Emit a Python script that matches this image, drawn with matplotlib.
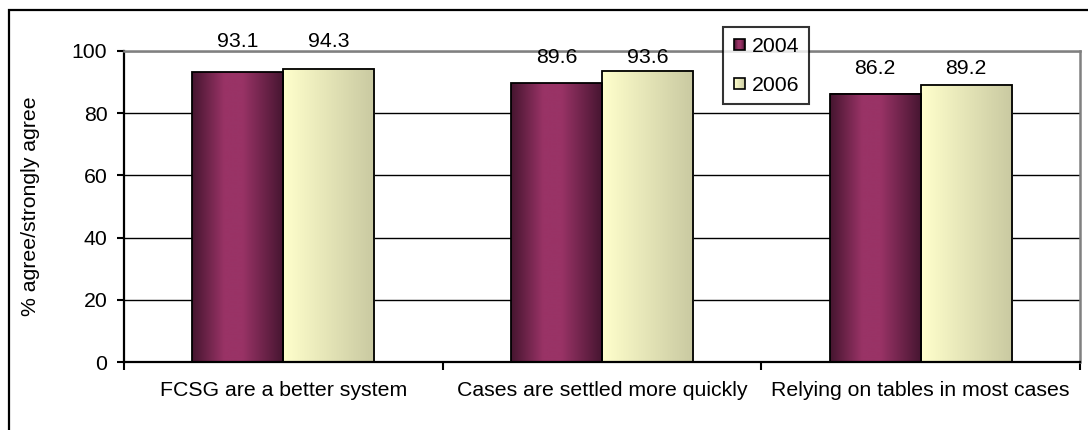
import numpy as np
import matplotlib
matplotlib.use("Agg")
import matplotlib.pyplot as plt
from matplotlib.colors import LinearSegmentedColormap
from matplotlib.patches import Rectangle
from matplotlib.legend_handler import HandlerPatch

# ---- data ----
categories = ["FCSG are a better system",
              "Cases are settled more quickly",
              "Relying on tables in most cases"]
series_names = ["2004", "2006"]
values_2004 = [93.1, 89.6, 86.2]
values_2006 = [94.3, 93.6, 89.2]
y_ticks = [0, 20, 40, 60, 80, 100]

# label offsets above each bar top (points)
label_offsets_2004 = [22.0, 18.5, 18.0]
label_offsets_2006 = [19.5, 9.5, 11.5]

plt.rcParams["font.family"] = ["Liberation Sans", "DejaVu Sans"]
FS = 15.3

W, H = 1088, 430
fig = plt.figure(figsize=(W / 100, H / 100), dpi=100)
ax = fig.add_axes([124 / W, 1 - 362 / H, (1080 - 124) / W, (362 - 51) / H])

# outer chart frame (runs off the right/bottom edge)
fig.patches.append(Rectangle((9 / W, -0.05), 1.2, 1 - 10 / H + 0.05,
                             transform=fig.transFigure, fill=False,
                             edgecolor="black", linewidth=1.6, zorder=0))

n = len(categories)
x = np.arange(n)
bw = 1 / 3.5

purple_cmap = LinearSegmentedColormap.from_list(
    "purple", [(0.0, "#45152f"), (0.35, "#993366"), (0.55, "#993366"),
               (1.0, "#451530")])
cream_cmap = LinearSegmentedColormap.from_list(
    "cream", [(0.0, "#ffffcc"), (1.0, "#c9c9a1")])

bars1 = ax.bar(x - bw / 2, values_2004, bw, color="#993366",
               edgecolor="black", linewidth=1.3, zorder=3)
bars2 = ax.bar(x + bw / 2, values_2006, bw, color="#ffffcc",
               edgecolor="black", linewidth=1.3, zorder=3)

grad = np.linspace(0, 1, 256).reshape(1, -1)
for bars, cmap in ((bars1, purple_cmap), (bars2, cream_cmap)):
    for b in bars:
        x0, w, h = b.get_x(), b.get_width(), b.get_height()
        ax.imshow(grad, cmap=cmap, aspect="auto",
                  extent=(x0, x0 + w, 0, h), zorder=2.5,
                  interpolation="bilinear")
        b.set_facecolor("none")

for bars, vals, offs in ((bars1, values_2004, label_offsets_2004),
                         (bars2, values_2006, label_offsets_2006)):
    for b, v, o in zip(bars, vals, offs):
        ax.annotate(f"{v:.1f}", (b.get_x() + b.get_width() / 2, v),
                    xytext=(0, o), textcoords="offset points",
                    ha="center", va="center", fontsize=FS, zorder=5)

ax.set_xlim(-0.5, n - 0.5)
ax.set_ylim(0, 100)
ax.set_yticks(y_ticks)
ax.set_yticklabels([str(t) for t in y_ticks], fontsize=FS)
ax.yaxis.grid(True, color="black", linewidth=1.0, zorder=1)
ax.set_axisbelow(True)

# category boundary ticks, labels centered in categories
ax.set_xticks(np.arange(n + 1) - 0.5)
ax.set_xticklabels([])
ax.set_xticks(x, minor=True)
ax.set_xticklabels(categories, minor=True, fontsize=FS)
ax.tick_params(axis="x", which="major", length=6, width=1.5, direction="out")
ax.tick_params(axis="x", which="minor", length=0, pad=14)
ax.tick_params(axis="y", length=5, width=1.5, direction="out", pad=7)

for side in ("top", "right"):
    ax.spines[side].set_color("#808080")
    ax.spines[side].set_linewidth(1.8)
for side in ("left", "bottom"):
    ax.spines[side].set_color("black")
    ax.spines[side].set_linewidth(1.6)
ax.spines["bottom"].set_zorder(4)

ax.set_ylabel("% agree/strongly agree", fontsize=FS)
ax.yaxis.set_label_coords(-84 / (1080 - 124), 0.5)


class GradientSquare(HandlerPatch):
    def __init__(self, cmap):
        super().__init__()
        self.cmap = cmap

    def create_artists(self, legend, orig_handle, xdescent, ydescent,
                       width, height, fontsize, trans):
        s = 8.0
        x0 = -xdescent + width - s
        y0 = -ydescent + (height - s) / 2
        arts = []
        steps = 12
        for i in range(steps):
            arts.append(Rectangle((x0 + s * i / steps, y0), s / steps + 0.05, s,
                                  facecolor=self.cmap((i + 0.5) / steps),
                                  edgecolor="none", transform=trans))
        arts.append(Rectangle((x0, y0), s, s, facecolor="none",
                              edgecolor="black", linewidth=1.2, transform=trans))
        return arts


h1 = Rectangle((0, 0), 1, 1)
h2 = Rectangle((0, 0), 1, 1)
leg = ax.legend([h1, h2], series_names, loc="upper left",
                bbox_to_anchor=((723 - 124) / (1080 - 124), 1 + (51 - 27) / (362 - 51)),
                fontsize=FS, frameon=True, fancybox=False,
                handler_map={h1: GradientSquare(purple_cmap),
                             h2: GradientSquare(cream_cmap)},
                handlelength=0.6, handletextpad=0.3, labelspacing=0.95,
                borderpad=0.45, borderaxespad=0)
leg.get_frame().set_edgecolor("black")
leg.get_frame().set_linewidth(1.5)
leg.set_zorder(6)

fig.savefig("out.png", dpi=100)
